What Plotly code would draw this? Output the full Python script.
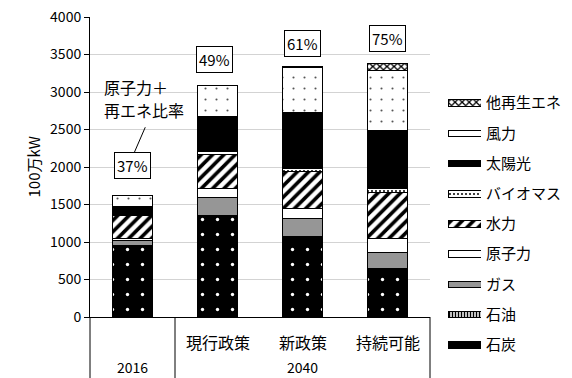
import plotly.graph_objects as go

# ---- data (100万kW) ----
categories = ["2016", "現行政策", "新政策", "持続可能"]
periods = ["2016", "2040"]

coal    = [955, 1355, 1075, 640]
oil     = [5, 5, 5, 5]
gas     = [60, 227, 232, 214]
nuclear = [25, 125, 133, 186]
hydro   = [315, 460, 500, 620]
biomass = [12, 35, 34, 47]
solar   = [95, 460, 754, 777]
wind    = [150, 415, 600, 800]
other   = [3, 8, 10, 89]

series_names = ["石炭", "石油", "ガス", "原子力", "水力", "バイオマス", "太陽光", "風力", "他再生エネ"]
series_values = [coal, oil, gas, nuclear, hydro, biomass, solar, wind, other]
non_fossil = ["原子力", "水力", "バイオマス", "太陽光", "風力", "他再生エネ"]
note_lines = ["原子力＋", "再エネ比率"]

# ---- styling ----
FONT = "Noto Sans CJK JP"
W, H = 572, 378
PL, PR, PT, PB = 90, 430, 17, 317          # plot area in pixels
ML, MT = 90, 17                            # margins (right/bottom handled by domains)
paper_w, paper_h = W - ML, H - MT


def px_x(px):
    return (px - ML) / paper_w


def px_y(py):
    return (H - py) / paper_h


styles = {
    "石炭":     dict(bg="black", fg="white", shape=".", size=15, solidity=0.04),
    "石油":     dict(bg="white", fg="black", shape="|", size=3, solidity=0.5),
    "ガス":     dict(bg="#969696", fg="#969696", shape="", size=8, solidity=0.3),
    "原子力":   dict(bg="white", fg="white", shape="", size=8, solidity=0.3),
    "水力":     dict(bg="white", fg="black", shape="/", size=8, solidity=0.45),
    "バイオマス": dict(bg="white", fg="black", shape=".", size=4, solidity=0.2),
    "太陽光":   dict(bg="black", fg="black", shape="", size=8, solidity=0.3),
    "風力":     dict(bg="white", fg="#555555", shape=".", size=11, solidity=0.03),
    "他再生エネ": dict(bg="white", fg="black", shape="x", size=5, solidity=0.45),
}


def marker_for(st, shape=None):
    return dict(
        color=st["bg"],
        line=dict(color="black", width=1),
        pattern=dict(shape=st["shape"] if shape is None else shape,
                     fgcolor=st["fg"], bgcolor=st["bg"],
                     size=st["size"], solidity=st["solidity"], fillmode="replace"),
    )


fig = go.Figure()

for name, vals in zip(series_names, series_values):
    fig.add_trace(go.Bar(
        x=categories, y=vals, name=name, width=0.46,
        marker=marker_for(styles[name]),
        showlegend=False, hoverinfo="skip",
    ))

# legend drawn as a small horizontal bar panel on its own axes
for name in series_names:
    fig.add_trace(go.Bar(
        x=[1], y=[name], orientation="h", width=0.22,
        xaxis="x2", yaxis="y2", showlegend=False, hoverinfo="skip",
        marker=marker_for(styles[name], shape="" if name == "風力" else None),
    ))

# share of nuclear + renewables in each bar
totals = [sum(v[i] for v in series_values) for i in range(len(categories))]
ratios = [
    round(100 * sum(series_values[series_names.index(n)][i] for n in non_fossil) / totals[i])
    for i in range(len(categories))
]
ratio_label_y = [2020, 3440, 3650, 3720]

annotations = []
for i, (c, r) in enumerate(zip(categories, ratios)):
    annotations.append(dict(
        x=i, y=ratio_label_y[i], xref="x", yref="y", text=f"{r}%", showarrow=False,
        font=dict(family=FONT, size=15, color="black"),
        bordercolor="black", borderwidth=1, borderpad=2, bgcolor="white",
        xshift=-3 if i == 1 else 0,
    ))

# note text, one annotation per line
for line, py in zip(note_lines, (87, 110)):
    annotations.append(dict(
        x=-0.36, y=px_y(py), xref="x", yref="paper", xanchor="left", yanchor="middle",
        text=line, showarrow=False, font=dict(family=FONT, size=16, color="black"),
    ))

# category table below the plot
for i, c in enumerate(categories[1:], start=1):
    annotations.append(dict(
        x=i, y=px_y(342), xref="x", yref="paper", text=c, showarrow=False,
        font=dict(family=FONT, size=16, color="black"), yanchor="middle",
    ))
annotations.append(dict(
    x=0, y=px_y(367), xref="x", yref="paper", text=periods[0], showarrow=False,
    font=dict(family=FONT, size=14, color="black"), yanchor="middle",
))
annotations.append(dict(
    x=2, y=px_y(367), xref="x", yref="paper", text=periods[1], showarrow=False,
    font=dict(family=FONT, size=14, color="black"), yanchor="middle",
))
annotations.append(dict(
    x=px_x(20), y=px_y(167), xref="paper", yref="paper", text="100万kW",
    textangle=-90, showarrow=False, font=dict(family=FONT, size=15, color="black"),
))

shapes = [
    dict(type="line", xref="x", yref="y", x0=0.02, y0=2190, x1=0.15, y1=2530,
         line=dict(color="black", width=1)),
]
for xp in (PL, PL + (PR - PL) / 4, PR):
    shapes.append(dict(type="line", xref="paper", yref="paper",
                       x0=px_x(xp), x1=px_x(xp), y0=px_y(PB), y1=-0.02,
                       line=dict(color="black", width=1)))

fig.update_layout(
    width=W, height=H,
    margin=dict(l=ML, r=0, t=MT, b=0, pad=0, autoexpand=False),
    paper_bgcolor="white", plot_bgcolor="white",
    barmode="stack",
    font=dict(family=FONT, size=14, color="black"),
    xaxis=dict(domain=[0, px_x(PR)], range=[-0.5, 3.5], showticklabels=False,
               showline=True, linecolor="black", linewidth=1, ticks="",
               showgrid=False, zeroline=False, fixedrange=True, automargin=False),
    yaxis=dict(domain=[px_y(PB), 1], range=[0, 4000], dtick=500,
               showline=True, linecolor="black", linewidth=1,
               ticks="outside", ticklen=5, tickcolor="black",
               showgrid=True, gridcolor="#d3d3d3", gridwidth=1, zeroline=False,
               tickfont=dict(family=FONT, size=14, color="black"), automargin=False),
    xaxis2=dict(domain=[px_x(448), px_x(481)], range=[0, 1], anchor="y2",
                visible=False, fixedrange=True, automargin=False),
    yaxis2=dict(domain=[px_y(360), px_y(88)], anchor="x2", side="right",
                categoryorder="array", categoryarray=series_names,
                showline=False, showgrid=False, zeroline=False, ticks="",
                ticklabelstandoff=4, automargin=False,
                tickfont=dict(family=FONT, size=15, color="black")),
    annotations=annotations,
    shapes=shapes,
    bargap=0.54,
)

fig.write_html("out.html")
